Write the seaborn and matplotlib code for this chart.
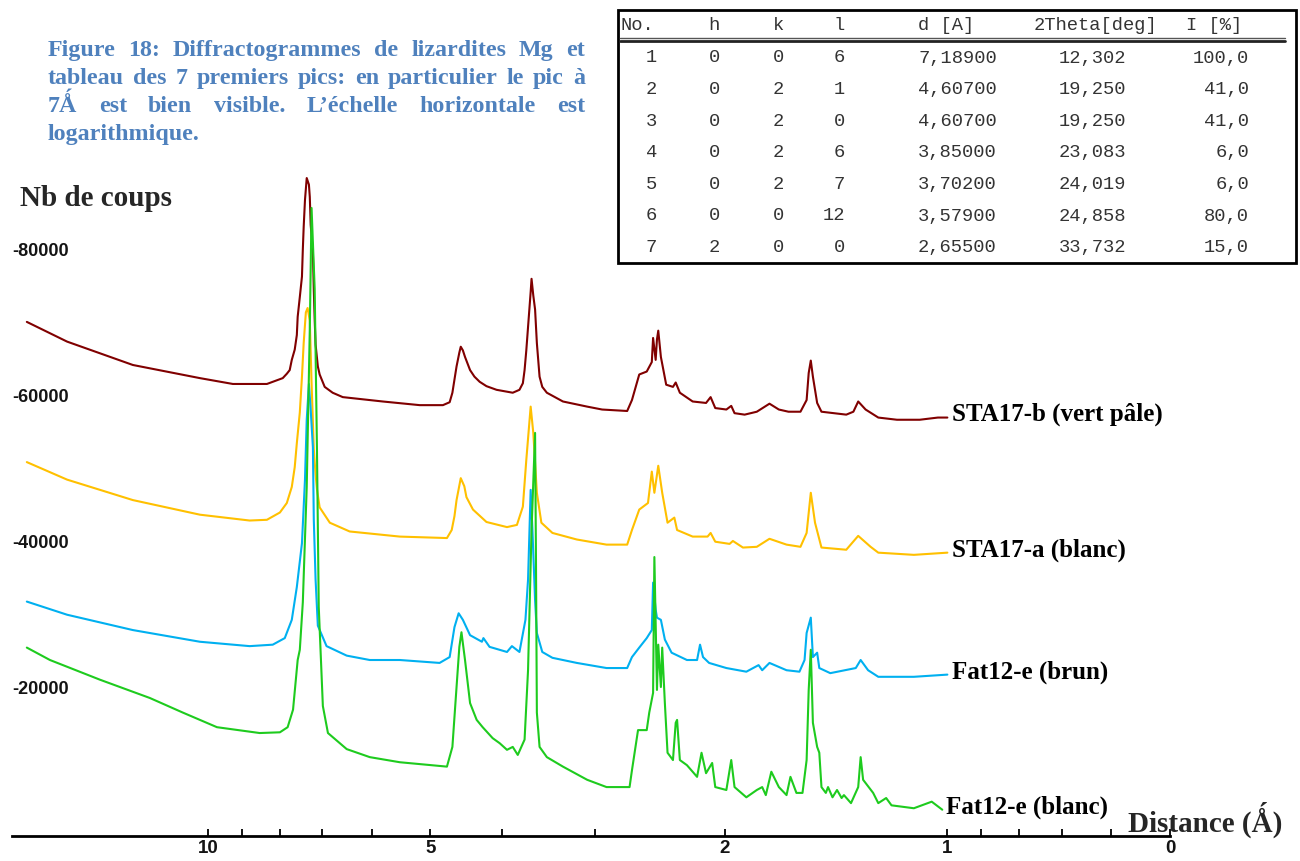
import matplotlib
matplotlib.use("Agg")
import matplotlib.pyplot as plt
from matplotlib.patches import Rectangle
from matplotlib.ticker import NullLocator
import seaborn as sns

# d-spacing (Angstrom) and counts
brown_d = [17.57, 15.50, 12.63, 10.25, 9.25, 8.32, 7.92, 7.82, 7.75, 7.70, 7.63, 7.58, 7.56, 7.51, 7.46, 7.44, 7.42,
           7.39, 7.35, 7.30, 7.28, 7.26, 7.21, 7.19, 7.17, 7.15, 7.10, 7.06, 6.95, 6.78, 6.57, 5.80, 5.17, 4.81,
           4.71, 4.67, 4.64, 4.61, 4.57, 4.55, 4.52, 4.49, 4.42, 4.36, 4.29, 4.20, 4.07, 3.87, 3.79, 3.75, 3.73,
           3.71, 3.69, 3.66, 3.65, 3.63, 3.61, 3.59, 3.56, 3.53, 3.48, 3.31, 3.07, 2.93, 2.71, 2.67, 2.61, 2.55,
           2.51, 2.50, 2.48, 2.47, 2.46, 2.44, 2.40, 2.35, 2.33, 2.30, 2.21, 2.12, 2.09, 2.06, 1.99, 1.96, 1.94,
           1.88, 1.81, 1.74, 1.69, 1.64, 1.58, 1.55, 1.54, 1.53, 1.52, 1.50, 1.48, 1.37, 1.34, 1.32, 1.29, 1.24,
           1.17, 1.09, 1.03, 1.00]
brown_c = [70400, 67700, 64500, 62700, 61900, 61900, 62700, 63300, 63800, 65200, 66600, 68600, 71100, 73800, 76600,
           80300, 83400, 87100, 90100, 89200, 87500, 83700, 79900, 74800, 70700, 67300, 64300, 63200, 61500, 60700,
           60100, 59500, 59000, 59000, 59400, 60700, 62500, 64300, 66200, 67000, 66500, 65600, 63800, 62900, 62200,
           61600, 61100, 60700, 61100, 62000, 63800, 66500, 69700, 74500, 76300, 74000, 72100, 67500, 62900, 61500,
           60700, 59500, 58800, 58400, 58200, 59700, 63200, 63600, 64900, 68200, 65200, 68000, 69200, 65600, 61800,
           61500, 62100, 60700, 59500, 59300, 60100, 58600, 58400, 58900, 57900, 57700, 58100, 59200, 58400, 58100,
           58100, 59700, 63400, 65100, 62900, 59300, 58100, 57700, 58100, 59500, 58400, 57300, 57000, 57000, 57300,
           57300]

yellow_d = [17.57, 15.50, 12.63, 10.25, 8.78, 8.32, 7.99, 7.82, 7.70, 7.63, 7.58, 7.51, 7.46, 7.42, 7.37, 7.33,
            7.28, 7.24, 7.19, 7.15, 7.12, 7.06, 6.84, 6.43, 5.50, 4.75, 4.68, 4.64, 4.61, 4.55, 4.50, 4.47, 4.38,
            4.20, 3.94, 3.82, 3.75, 3.71, 3.66, 3.63, 3.59, 3.54, 3.42, 3.17, 2.89, 2.71, 2.67, 2.61, 2.54, 2.51,
            2.49, 2.46, 2.43, 2.39, 2.34, 2.32, 2.21, 2.11, 2.09, 2.06, 1.97, 1.95, 1.89, 1.81, 1.74, 1.65, 1.58,
            1.55, 1.53, 1.51, 1.48, 1.37, 1.32, 1.27, 1.24, 1.11, 1.00]
yellow_c = [51200, 48800, 46000, 44000, 43200, 43300, 44300, 45600, 47800, 50500, 53800, 58000, 62900, 67500, 71700,
            72300, 70600, 62000, 53000, 49500, 47500, 45000, 42900, 41700, 41000, 40800, 41900, 43800, 46000, 49000,
            47900, 46400, 44700, 43000, 42300, 42600, 45100, 51500, 58800, 55200, 47000, 42900, 41500, 40600, 39900,
            39900, 41900, 44700, 45600, 49900, 47000, 50700, 47000, 42900, 43600, 41900, 41000, 41000, 41500, 40300,
            40000, 40400, 39500, 39600, 40700, 39900, 39600, 41500, 47000, 42900, 39500, 39200, 41100, 39600, 38800,
            38500, 38800]

blue_d = [17.57, 15.50, 12.63, 10.25, 8.78, 8.17, 7.87, 7.70, 7.58, 7.46, 7.39, 7.35, 7.30, 7.26, 7.21, 7.19, 7.15,
          7.10, 6.91, 6.49, 6.04, 5.50, 4.86, 4.71, 4.64, 4.58, 4.52, 4.42, 4.26, 4.24, 4.16, 3.94, 3.88, 3.79, 3.72,
          3.69, 3.66, 3.64, 3.61, 3.59, 3.53, 3.42, 3.17, 2.89, 2.71, 2.67, 2.61, 2.55, 2.51, 2.50, 2.48, 2.47, 2.44,
          2.41, 2.36, 2.25, 2.18, 2.16, 2.14, 2.10, 1.99, 1.87, 1.80, 1.78, 1.74, 1.65, 1.585, 1.56, 1.55, 1.53, 1.52,
          1.50, 1.49, 1.44, 1.33, 1.31, 1.28, 1.24, 1.11, 1.00]
blue_c = [32100, 30300, 28200, 26600, 26000, 26200, 27100, 29600, 34100, 40100, 48800, 57000, 61900, 58400, 53200,
          43300, 35100, 28800, 26000, 24700, 24100, 24100, 23700, 24500, 28600, 30500, 29600, 27500, 26600, 27100,
          25900, 25200, 26000, 25200, 29600, 35100, 47400, 41900, 32300, 27800, 25200, 24400, 23700, 23000, 23000,
          24500, 25800, 27100, 28200, 34700, 31000, 29900, 29600, 26900, 25100, 24100, 24100, 26200, 24500, 23700,
          23000, 22500, 23400, 22700, 23700, 22700, 22500, 24100, 27800, 29900, 24500, 25100, 23000, 22300, 23000,
          24100, 22700, 21800, 21800, 22100]

green_d = [17.57, 16.35, 13.99, 11.98, 10.81, 9.72, 8.51, 7.99, 7.80, 7.67, 7.56, 7.51, 7.44, 7.35, 7.28, 7.24,
           7.17, 7.12, 7.08, 6.99, 6.88, 6.49, 6.04, 5.50, 4.75, 4.67, 4.61, 4.57, 4.54, 4.49, 4.42, 4.33, 4.25,
           4.12, 4.03, 3.94, 3.87, 3.81, 3.73, 3.69, 3.65, 3.61, 3.60, 3.59, 3.56, 3.48, 3.31, 3.07, 2.89, 2.69,
           2.67, 2.62, 2.55, 2.53, 2.50, 2.49, 2.47, 2.46, 2.44, 2.43, 2.41, 2.39, 2.35, 2.33, 2.32, 2.30, 2.25,
           2.18, 2.15, 2.12, 2.08, 2.06, 1.99, 1.96, 1.94, 1.87, 1.81, 1.78, 1.76, 1.73, 1.69, 1.65, 1.63, 1.60,
           1.57, 1.55, 1.54, 1.53, 1.52, 1.50, 1.49, 1.48, 1.46, 1.45, 1.43, 1.41, 1.39, 1.38, 1.35, 1.32, 1.31,
           1.30, 1.26, 1.24, 1.21, 1.19, 1.11, 1.05, 1.016]
green_c = [25800, 24100, 21400, 18900, 16900, 14900, 14100, 14200, 14900, 17300, 24100, 25500, 32000, 47800, 69500,
           86000, 74900, 53200, 31400, 17800, 14100, 11900, 10800, 10100, 9500, 12200, 20400, 25900, 27900, 24100,
           18200, 15900, 14900, 13400, 12700, 11800, 12200, 11100, 13200, 22700, 41900, 55200, 37800, 16900, 12200,
           10800, 9500, 7700, 6700, 6700, 9000, 14500, 14500, 16900, 19600, 38200, 20000, 26200, 20400, 25800,
           18200, 11400, 10400, 15500, 15900, 10400, 9700, 8100, 11400, 8600, 10000, 6700, 6300, 10400, 6700,
           5300, 6300, 6700, 5600, 8800, 6700, 5600, 8100, 5900, 5900, 10400, 20000, 25500, 15500, 12200,
           11400, 6700, 5900, 6700, 5300, 6300, 5200, 5600, 4500, 6700, 10800, 7700, 5900, 4500, 5200, 4200,
           3800, 4700, 3600]

series_names = ["STA17-b (vert pâle)", "STA17-a (blanc)", "Fat12-e (brun)", "Fat12-e (blanc)"]
series_colors = ["#800000", "#FFC000", "#00B0F0", "#1ECB1E"]

x_ticks = [10, 9, 8, 7, 6, 5, 4, 3, 2, 1, 0.9, 0.8, 0.7, 0.6, 0.5]
x_labels = ["10", "", "", "", "", "5", "", "", "2", "1", "", "", "", "", "0"]
y_ticks = [20000, 40000, 60000, 80000]

# peak table (cells as printed)
tab_no = ["1", "2", "3", "4", "5", "6", "7"]
tab_h = ["0", "0", "0", "0", "0", "0", "2"]
tab_k = ["0", "2", "2", "2", "2", "0", "0"]
tab_l = ["6", "1", "0", "6", "7", "12", "0"]
tab_d = ["7,18900", "4,60700", "4,60700", "3,85000", "3,70200", "3,57900", "2,65500"]
tab_2th = ["12,302", "19,250", "19,250", "23,083", "24,019", "24,858", "33,732"]
tab_i = ["100,0", "41,0", "41,0", "6,0", "6,0", "80,0", "15,0"]

caption = ["Figure 18: Diffractogrammes de lizardites Mg et",
           "tableau des 7 premiers pics: en particulier le pic à",
           "7Ǻ est bien visible. L’échelle horizontale est",
           "logarithmique."]

sns.set_theme(style="white")
plt.rcParams['font.family'] = ['Liberation Serif', 'DejaVu Serif']

W, H = 1300, 861
fig = plt.figure(figsize=(13, 8.61), dpi=100)


def fx(px):
    return px / W


def fy(py):
    return 1 - py / H


ax = fig.add_axes([fx(12), fy(836), (1170 - 12) / W, (836 - 170) / H])
ax.patch.set_alpha(0)

all_d = [brown_d, yellow_d, blue_d, green_d]
all_c = [brown_c, yellow_c, blue_c, green_c]
for d, c, col, name in zip(all_d, all_c, series_colors, series_names):
    sns.lineplot(x=d, y=c, ax=ax, color=col, lw=1.5, sort=False, estimator=None)
    ax.annotate(name, xy=(d[-1], c[-1]), xytext=(3, 2), textcoords='offset points',
                ha='left', va='center', fontsize=18, fontweight='bold', color='black',
                annotation_clip=False)

ax.set_xscale('log')
ax.set_xlim(18.4, 0.5)
ax.set_ylim(0, 91200)
ax.xaxis.set_minor_locator(NullLocator())
ax.set_xticks(x_ticks)
ax.set_xticklabels(x_labels, fontweight='bold', family='Liberation Sans', fontsize=13.5)
ax.tick_params(axis='x', which='major', bottom=True, direction='in', length=5, width=1.3, pad=3,
               color='black', labelcolor='#141414')
ax.set_yticks([])
for s in ['left', 'right', 'top']:
    ax.spines[s].set_visible(False)
ax.spines['bottom'].set_linewidth(2)
ax.spines['bottom'].set_color('black')
ax.set_xlabel('')
ax.set_ylabel('')

for v in y_ticks:
    ax.text(0, v, f"-{v}", transform=ax.get_yaxis_transform(), ha='left', va='center',
            fontsize=13, fontweight='bold', family='Liberation Sans', color='#141414')

fig.text(fx(20), fy(199), "Nb de coups", fontsize=21, fontweight='bold', va='center', ha='left')
fig.text(fx(1128), fy(820), "Distance (Ǻ)", fontsize=21, fontweight='bold', va='center', ha='left',
         family=['Liberation Serif', 'DejaVu Serif'])

# justified caption
renderer = fig.canvas.get_renderer()
cap_color = '#4F81BD'
for i, line in enumerate(caption):
    words = line.split(' ')
    base = fy(56 + 28 * i)
    texts = [fig.text(0, base, w, fontsize=17.3, fontweight='bold', color=cap_color, va='baseline',
                      family=['Liberation Serif', 'DejaVu Serif']) for w in words]
    widths = [t.get_window_extent(renderer).width for t in texts]
    if i < len(caption) - 1:
        gap = (585 - 48 - sum(widths)) / (len(words) - 1)
    else:
        gap = 6
    x = 48
    for t, w in zip(texts, widths):
        t.set_x(fx(x))
        x += w + gap

# peak table
tab = fig.add_axes([fx(617), fy(265), 681 / W, 256 / H])
tab.set_xlim(617, 1298)
tab.set_ylim(265, 9)
tab.axis('off')
tab.add_patch(Rectangle((618, 10), 678, 253, fill=False, lw=2, ec='black', clip_on=False))
tab.plot([620, 1285], [38, 38], color='#555555', lw=1)
tab.plot([620, 1285], [41, 41], color='#222222', lw=2)

mono = dict(family='Liberation Mono', fontsize=13.5, color='#333333', va='center')
tab.text(621, 25, "No.", ha='left', **mono)
tab.text(720, 25, "h", ha='right', **mono)
tab.text(784, 25, "k", ha='right', **mono)
tab.text(845, 25, "l", ha='right', **mono)
tab.text(918, 25, "d [A]", ha='left', **mono)
tab.text(1034, 25, "2Theta[deg]", ha='left', **mono)
tab.text(1186, 25, "I [%]", ha='left', **mono)
for r in range(len(tab_no)):
    y = 58 + 31.6 * r
    tab.text(657, y, tab_no[r], ha='right', **mono)
    tab.text(720, y, tab_h[r], ha='right', **mono)
    tab.text(784, y, tab_k[r], ha='right', **mono)
    tab.text(845, y, tab_l[r], ha='right', **mono)
    tab.text(918, y, tab_d[r], ha='left', **mono)
    tab.text(1126, y, tab_2th[r], ha='right', **mono)
    tab.text(1249, y, tab_i[r], ha='right', **mono)

fig.savefig("out.png", dpi=100)
plt.close(fig)
